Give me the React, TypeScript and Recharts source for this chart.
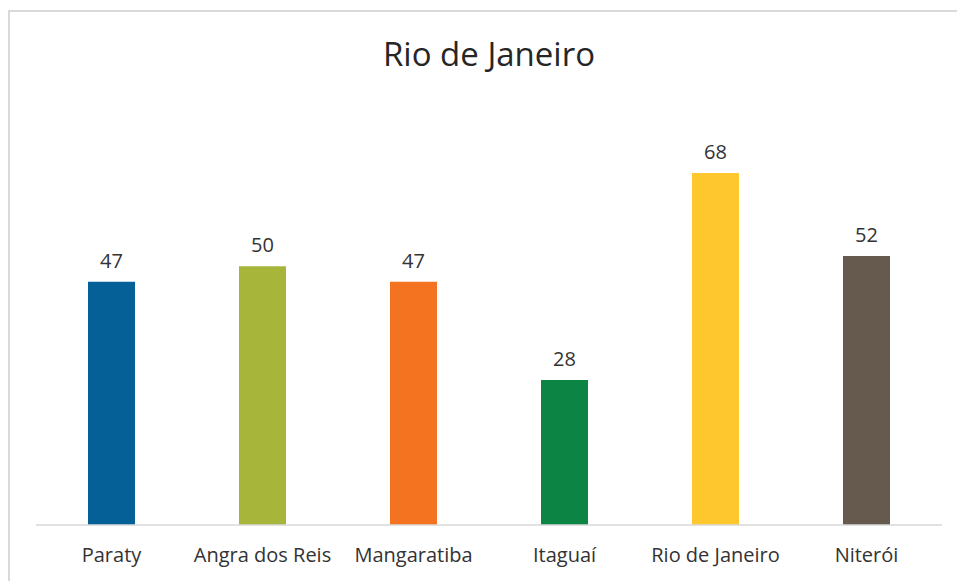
import React from 'react';
import { BarChart, Bar, XAxis, YAxis, Cell, LabelList } from 'recharts';

const cities = ['Paraty', 'Angra dos Reis', 'Mangaratiba', 'Itaguaí', 'Rio de Janeiro', 'Niterói'];
const values = [47, 50, 47, 28, 68, 52];
const colors = ['#046096', '#a7b63a', '#f37321', '#0c8443', '#fec72e', '#665a4f'];

const data = cities.map((name, i) => ({ name, value: values[i] }));

const font = '"Open Sans", sans-serif';

export default function App() {
  return (
    <div
      style={{
        position: 'fixed',
        left: 8,
        top: 10,
        width: 949,
        height: 571,
        overflow: 'hidden',
        borderTop: '2px solid #d9d9d9',
        borderLeft: '2px solid #d9d9d9',
        background: '#fff',
        fontFamily: font,
      }}
    >
      <div
        style={{
          position: 'absolute',
          left: 26,
          width: 906,
          top: 19,
          textAlign: 'center',
          fontSize: 33,
          color: '#262626',
        }}
      >
        Rio de Janeiro
      </div>
      <BarChart
        width={960}
        height={575}
        data={data}
        margin={{ top: 99, right: 28, left: 26, bottom: 32 }}
      >
        <YAxis hide domain={[0, 80]} />
        <XAxis
          dataKey="name"
          axisLine={{ stroke: '#d9d9d9', strokeWidth: 1.5 }}
          tickLine={false}
          tickSize={0}
          tickMargin={23}
          interval={0}
          tick={{ fill: '#333', fontSize: 20, fontFamily: font }}
        />
        <Bar dataKey="value" barSize={47} isAnimationActive={false}>
          {data.map((d, i) => (
            <Cell key={d.name} fill={colors[i]} />
          ))}
          <LabelList
            dataKey="value"
            position="top"
            offset={14}
            style={{ fill: '#333', fontSize: 20, fontFamily: font }}
          />
        </Bar>
      </BarChart>
    </div>
  );
}
